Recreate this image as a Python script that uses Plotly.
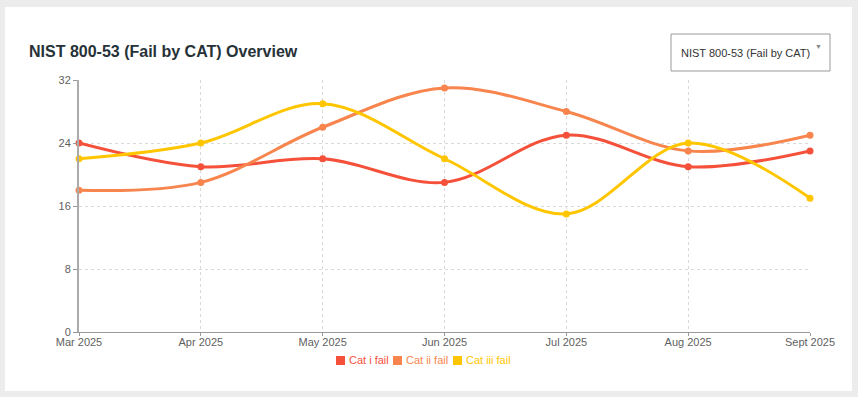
import plotly.graph_objects as go

months = ["Mar 2025", "Apr 2025", "May 2025", "Jun 2025", "Jul 2025", "Aug 2025", "Sept 2025"]
series_names = ["Cat i fail", "Cat ii fail", "Cat iii fail"]
cat_i = [24, 21, 22, 19, 25, 21, 23]
cat_ii = [18, 19, 26, 31, 28, 23, 25]
cat_iii = [22, 24, 29, 22, 15, 24, 17]
y_ticks = [0, 8, 16, 24, 32]
colors = ["#F5513A", "#F7854D", "#FFC600"]

W, H = 858, 397
L, R, T, B = 79, 48, 80, 65
pw, ph = W - L - R, H - T - B

def px(x):
    return (x - L) / pw

def py(y):
    return (H - B - y) / ph

fig = go.Figure()
for name, vals, c in zip(series_names, [cat_i, cat_ii, cat_iii], colors):
    fig.add_trace(go.Scatter(
        x=months, y=vals, mode="lines+markers", name=name,
        line=dict(color=c, width=3, shape="spline", smoothing=1),
        marker=dict(color=c, size=7), showlegend=False, cliponaxis=False,
    ))

shapes = [
    dict(type="rect", xref="paper", yref="paper", x0=px(5), x1=px(852), y0=py(391), y1=py(7),
         fillcolor="white", line=dict(width=0), layer="below"),
    dict(type="rect", xref="paper", yref="paper", x0=px(671), x1=px(830), y0=py(71), y1=py(34),
         fillcolor="white", line=dict(width=1, color="#9A9A9A"), layer="above"),
]
annotations = [
    dict(text="<b>NIST 800-53 (Fail by CAT) Overview</b>", xref="paper", yref="paper",
         x=px(27), y=py(52), xanchor="left", yanchor="middle", showarrow=False,
         font=dict(size=16, color="#263238")),
    dict(text="NIST 800-53 (Fail by CAT)", xref="paper", yref="paper",
         x=px(745), y=py(53), xanchor="center", yanchor="middle", showarrow=False,
         font=dict(size=11, color="#333333")),
    dict(text="▼", xref="paper", yref="paper",
         x=px(818), y=py(46), xanchor="center", yanchor="middle", showarrow=False,
         font=dict(size=7, color="#888888")),
]

# manual legend (square + coloured text)
legend_square_left = [336, 393, 453]
for name, c, sx in zip(series_names, colors, legend_square_left):
    shapes.append(dict(type="rect", xref="paper", yref="paper",
                       x0=px(sx), x1=px(sx + 9), y0=py(365), y1=py(356),
                       fillcolor=c, line=dict(width=0)))
    annotations.append(dict(text=name, xref="paper", yref="paper",
                            x=px(sx + 11), y=py(360), xanchor="left", yanchor="middle",
                            showarrow=False, font=dict(size=11, color=c)))

fig.update_layout(
    width=W, height=H,
    margin=dict(l=L, r=R, t=T, b=B),
    paper_bgcolor="#ECECEC",
    plot_bgcolor="rgba(0,0,0,0)",
    font=dict(family="Liberation Sans, Arial, sans-serif", size=11, color="#666666"),
    showlegend=False,
    xaxis=dict(type="category", range=[0, 6], showgrid=True, gridcolor="#D9D9D9", griddash="dot",
               showline=True, linecolor="#999999", linewidth=1, ticks="outside", ticklen=3,
               tickcolor="#999999", zeroline=False, tickfont=dict(size=11, color="#5F5F5F"),
               ticklabelstandoff=-3),
    yaxis=dict(range=[0, 32], tickvals=y_ticks, showgrid=True, gridcolor="#D9D9D9", griddash="dot",
               showline=True, linecolor="#AAAAAA", linewidth=2, ticks="outside", ticklen=4,
               tickcolor="#999999", zeroline=False, tickfont=dict(size=11, color="#5F5F5F")),
    shapes=shapes,
    annotations=annotations,
)

fig.write_html("out.html", config={"displayModeBar": False},
               post_script="document.body.style.margin='0';")
